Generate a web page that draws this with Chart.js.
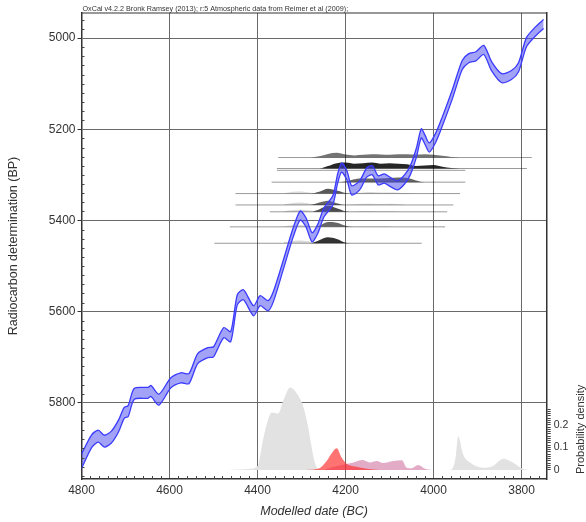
<!DOCTYPE html>
<html>
<head>
<meta charset="utf-8">
<script src="https://cdn.jsdelivr.net/npm/chart.js@4.4.1/dist/chart.umd.min.js"></script>
<style>
html, body { margin: 0; padding: 0; background: #fff; }
</style>
</head>
<body>
<canvas id="myChart" width="586" height="522"></canvas>
<script>
const xTicks = [4800, 4600, 4400, 4200, 4000, 3800];
const yTicks = [5000, 5200, 5400, 5600, 5800];
const probTicks = [0, 0.1, 0.2];

// calibration curve (years BC, upper / lower edge of band in BP)
const curveYears = [4800,4777,4762,4748,4732,4716,4703,4694,4680,4649,4642,4624,4597,4574,4556,4536,4513,4500,4477,4461,4446,4432,4409,4394,4376,4364,4342,4319,4303,4290,4276,4263,4249,4229,4218,4209,4197,4186,4168,4152,4139,4126,4112,4096,4082,4066,4053,4039,4028,4019,4010,3996,3981,3958,3935,3920,3904,3886,3868,3845,3823,3807,3789,3768,3750];
const curveUpper = [5912,5870,5860,5871,5862,5838,5810,5806,5768,5766,5762,5781,5745,5734,5736,5692,5679,5677,5635,5644,5563,5552,5587,5565,5576,5556,5489,5416,5379,5394,5427,5408,5372,5346,5298,5274,5291,5324,5313,5285,5280,5302,5298,5307,5313,5300,5280,5241,5199,5214,5230,5210,5175,5115,5049,5034,5030,5016,5052,5078,5071,5054,4999,4975,4959];
const curveLower = [5944,5898,5886,5897,5888,5864,5834,5830,5792,5790,5786,5805,5767,5756,5758,5714,5701,5699,5657,5666,5585,5574,5609,5587,5598,5578,5509,5436,5399,5414,5447,5428,5392,5366,5318,5294,5311,5344,5333,5305,5300,5322,5318,5327,5333,5320,5300,5261,5219,5234,5250,5230,5195,5135,5069,5054,5050,5036,5072,5098,5091,5074,5019,4995,4979];

// radiocarbon dates drawn as ridges
const ridgeBP = [5262, 5286, 5290, 5316, 5341, 5366, 5381, 5414, 5450];
const ridgeStart = [4353, 4356, 4356, 4368, 4450, 4450, 4372, 4463, 4498];
const ridgeEnd = [3777, 3788, 3928, 3928, 3940, 3955, 3969, 3974, 4027];
const ridgeYears = [4340,4320,4300,4280,4260,4240,4220,4200,4180,4160,4140,4120,4100,4080,4060,4040,4020,4000,3980,3960,3940];
const ridgeDark = [
  [0,0,0,0,0.2,0.6,0.8,0.5,0.35,0.45,0.55,0.5,0.45,0.55,0.55,0.5,0.55,0.45,0.3,0.1,0],
  [0,0,0,0,0,0.4,0.9,1.0,0.8,0.9,1.0,0.8,0.9,0.8,0.7,0.4,0.5,0.6,0.3,0.1,0],
  null,
  [0,0,0,0,0,0,0,0.1,0.5,0.6,0.6,0.6,0.7,0.8,0.7,0.3,0,0,0,0,0],
  [0,0,0,0,0.3,0.8,0.5,0.1,0,0,0,0,0,0,0,0,0,0,0,0,0],
  [0,0,0,0,0.4,0.7,0.3,0,0,0,0,0,0,0,0,0,0,0,0,0,0],
  [0,0,0,0,0.4,1.0,0.6,0.1,0,0,0,0,0,0,0,0,0,0,0,0,0],
  [0,0,0,0,0.2,0.8,0.7,0.2,0,0,0,0,0,0,0,0,0,0,0,0,0],
  [0,0,0,0,0.5,1.0,0.7,0.1,0,0,0,0,0,0,0,0,0,0,0,0,0]
];
const ridgeLight = [
  null, null, null, null,
  [0.05,0.3,0.35,0.15,0,0,0,0,0.1,0.2,0.25,0.2,0.2,0.15,0.1,0,0,0,0,0,0],
  [0.1,0.35,0.4,0.2,0,0,0,0,0.1,0.2,0.2,0.15,0.2,0.1,0,0,0,0,0,0,0],
  [0.1,0.3,0.35,0.2,0,0,0,0,0.05,0.15,0.15,0.1,0.1,0.05,0,0,0,0,0,0,0],
  [0.1,0.25,0.3,0.15,0,0,0,0,0.05,0.1,0.1,0.1,0.05,0,0,0,0,0,0,0,0],
  [0.2,0.4,0.45,0.25,0.05,0,0,0,0,0,0,0,0,0,0,0,0,0,0,0,0]
];
const ridgeAlpha = [0.55, 0.85, 0, 0.6, 0.65, 0.6, 0.7, 0.6, 0.8];

// modelled probability distributions along the bottom
const grayBigYears = [4470,4440,4417,4405,4398,4387,4375,4368,4353,4341,4326,4311,4296,4285,4277,4269,4262,4240];
const grayBigProb = [0,0.002,0.005,0.01,0.027,0.14,0.23,0.255,0.25,0.31,0.366,0.34,0.28,0.19,0.1,0.027,0.005,0];
const redYears = [4290,4262,4243,4233,4220,4209,4197,4178,4152,4122];
const redProb = [0,0.005,0.04,0.07,0.096,0.055,0.027,0.015,0.005,0];
const pinkYears = [4250,4230,4213,4184,4161,4145,4129,4115,4092,4072,4061,4050,4035,4019,4004];
const pinkProb = [0,0.012,0.02,0.032,0.044,0.033,0.04,0.031,0.04,0.043,0.01,0.008,0.022,0.005,0];
const graySmallYears = [3963,3956,3950,3944,3933,3917,3888,3865,3842,3820,3798,3782];
const graySmallProb = [0,0.01,0.055,0.15,0.07,0.033,0.01,0.018,0.05,0.033,0.005,0];

const ridgeHeight = 13; // BP per unit of ridge density
const fontFamily = '"Liberation Sans", Arial, sans-serif';

const datasets = [];
datasets.push({
  data: curveYears.map((yr, i) => ({x: yr, y: curveUpper[i]})),
  borderColor: '#3a3aff', borderWidth: 1.3, pointRadius: 0, tension: 0.25,
  fill: '+1', backgroundColor: 'rgba(70,70,240,0.5)'
});
datasets.push({
  data: curveYears.map((yr, i) => ({x: yr, y: curveLower[i]})),
  borderColor: '#3a3aff', borderWidth: 1.3, pointRadius: 0, tension: 0.25, fill: false
});

ridgeBP.forEach((bp, i) => {
  datasets.push({
    data: [{x: ridgeStart[i], y: bp}, {x: ridgeEnd[i], y: bp}],
    borderColor: 'rgba(0,0,0,0.4)', borderWidth: 1, pointRadius: 0, fill: false
  });
  if (ridgeDark[i]) {
    datasets.push({
      data: ridgeYears.map((yr, k) => ({x: yr, y: bp - ridgeDark[i][k] * ridgeHeight})),
      borderWidth: 0, pointRadius: 0, cubicInterpolationMode: 'monotone',
      fill: {value: bp}, backgroundColor: 'rgba(0,0,0,' + ridgeAlpha[i] + ')'
    });
  }
  if (ridgeLight[i]) {
    datasets.push({
      data: ridgeYears.map((yr, k) => ({x: yr, y: bp - ridgeLight[i][k] * ridgeHeight})),
      borderWidth: 0, pointRadius: 0, cubicInterpolationMode: 'monotone',
      fill: {value: bp}, backgroundColor: 'rgba(0,0,0,0.14)'
    });
  }
});

function probSet(years, probs, color) {
  return {
    yAxisID: 'y2',
    data: years.map((yr, i) => ({x: yr, y: probs[i]})),
    borderWidth: 0, pointRadius: 0, cubicInterpolationMode: 'monotone',
    fill: {value: 0}, backgroundColor: color
  };
}
datasets.push(probSet(redYears, redProb, 'rgba(255,40,40,0.65)'));
datasets.push(probSet(pinkYears, pinkProb, 'rgba(190,70,130,0.45)'));
datasets.push(probSet(grayBigYears, grayBigProb, '#e2e2e2'));
datasets.push(probSet(graySmallYears, graySmallProb, '#e2e2e2'));

const extras = {
  id: 'extras',
  afterDraw(chart) {
    const ctx = chart.ctx;
    const a = chart.chartArea;
    const xs = chart.scales.x, ys = chart.scales.y, y2 = chart.scales.y2;
    ctx.save();
    // top border
    ctx.strokeStyle = '#333';
    ctx.lineWidth = 1.2;
    ctx.beginPath();
    ctx.moveTo(a.left, a.top); ctx.lineTo(a.right, a.top);
    ctx.stroke();
    // minor ticks
    ctx.lineWidth = 1;
    ctx.strokeStyle = '#444';
    ctx.beginPath();
    for (let v = 3760; v < 4800; v += 20) {
      if (v % 200 === 0) continue;
      const px = Math.round(xs.getPixelForValue(v)) + 0.5;
      ctx.moveTo(px, a.bottom); ctx.lineTo(px, a.bottom - 3);
    }
    for (let v = 4960; v < 5967; v += 20) {
      if (v % 200 === 0) continue;
      const py = Math.round(ys.getPixelForValue(v)) + 0.5;
      ctx.moveTo(a.left, py); ctx.lineTo(a.left + 3, py);
    }
    ctx.stroke();
    // header
    ctx.fillStyle = '#333';
    ctx.font = '7.2px ' + fontFamily;
    ctx.textBaseline = 'alphabetic';
    ctx.fillText('OxCal v4.2.2 Bronk Ramsey (2013); r:5 Atmospheric data from Reimer et al (2009);', a.left + 1, a.top - 2);
    // probability axis title
    ctx.font = '11px ' + fontFamily;
    ctx.textAlign = 'center';
    ctx.textBaseline = 'middle';
    ctx.translate(a.right + 34, y2.getPixelForValue(0.18));
    ctx.rotate(-Math.PI / 2);
    ctx.fillText('Probability density', 0, 0);
    ctx.restore();
  }
};

const ctx = document.getElementById('myChart').getContext('2d');
const myChart = new Chart(ctx, {
  type: 'line',
  data: { datasets: datasets },
  plugins: [extras],
  options: {
    responsive: false,
    animation: false,
    devicePixelRatio: 1,
    layout: { padding: { top: 13, left: 0, right: 0, bottom: 0 } },
    plugins: { legend: { display: false }, tooltip: { enabled: false } },
    scales: {
      x: {
        type: 'linear', reverse: true, min: 3743, max: 4800,
        afterBuildTicks: s => { s.ticks = xTicks.map(v => ({value: v})); },
        afterFit: s => { s.height = 43; },
        grid: { color: '#6a6a6a', lineWidth: 1, drawTicks: false },
        border: { color: '#333', width: 1.5 },
        ticks: { color: '#333', font: { family: fontFamily, size: 12 }, padding: 4, maxRotation: 0, autoSkip: false,
          callback: v => String(v) },
        title: { display: true, text: 'Modelled date (BC)', color: '#333',
          font: { family: fontFamily, size: 12.5, style: 'italic' }, padding: { top: 0, bottom: 3 } }
      },
      y: {
        type: 'linear', position: 'left', reverse: true, min: 4945, max: 5967,
        afterBuildTicks: s => { s.ticks = yTicks.map(v => ({value: v})); },
        afterFit: s => { s.width = 81.5; },
        grid: { color: '#6a6a6a', lineWidth: 1, tickLength: 4, tickColor: '#333' },
        border: { color: '#333', width: 1.5 },
        ticks: { color: '#333', font: { family: fontFamily, size: 12 }, padding: 2, callback: v => String(v) },
        title: { display: true, text: 'Radiocarbon determination (BP)', color: '#333',
          font: { family: fontFamily, size: 12.5 }, padding: { top: 6, bottom: 0 } }
      },
      y2: {
        type: 'linear', position: 'right', min: -0.04, max: 2.027,
        afterBuildTicks: s => {
          const t = [];
          for (let i = 0; i <= 27; i++) t.push({value: i / 100});
          s.ticks = t;
        },
        afterFit: s => { s.width = 39.3; },
        grid: { drawOnChartArea: false, tickLength: 4, color: '#444' },
        border: { color: '#333', width: 1.5 },
        ticks: {
          autoSkip: false, color: '#333', font: { family: fontFamily, size: 10.5 }, padding: 3,
          callback: v => {
            const hit = probTicks.find(p => Math.abs(p - v) < 1e-6);
            return hit === undefined ? '' : String(hit);
          }
        }
      }
    }
  }
});
</script>
</body>
</html>
